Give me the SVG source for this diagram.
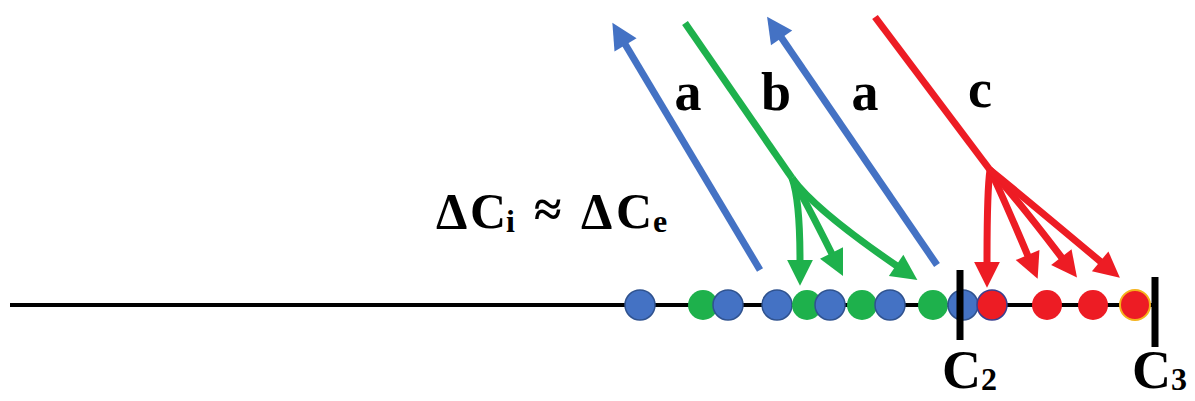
<svg xmlns="http://www.w3.org/2000/svg" width="1195" height="401" viewBox="0 0 1195 401">
<style>
.t{font-family:"Liberation Serif","Times New Roman",serif;font-weight:bold;fill:#000}
.lb{font-size:54px}
.eq{font-size:50px}
.sub{font-size:32px}
.cb{fill:#4472C4;stroke:#2F528F;stroke-width:1.5}
.cg{fill:#1EB14C}
.cr{fill:#ED1C24}
.ab{stroke:#4472C4;stroke-width:7;fill:none}
.ag{stroke:#1EB14C;stroke-width:7;fill:none}
.ar{stroke:#ED1C24;stroke-width:7;fill:none}
.tick{stroke:#000;stroke-width:7}
</style>
<defs>
<marker id="mb" markerUnits="userSpaceOnUse" markerWidth="30" markerHeight="30" refX="1" refY="0" viewBox="-2 -14 28 28" orient="auto"><path d="M0,-12 L24,0 L0,12 z" fill="#4472C4"/></marker>
<marker id="mg" markerUnits="userSpaceOnUse" markerWidth="30" markerHeight="30" refX="1" refY="0" viewBox="-2 -14 28 28" orient="auto"><path d="M0,-12 L24,0 L0,12 z" fill="#1EB14C"/></marker>
<marker id="mr" markerUnits="userSpaceOnUse" markerWidth="30" markerHeight="30" refX="1" refY="0" viewBox="-2 -14 28 28" orient="auto"><path d="M0,-12 L24,0 L0,12 z" fill="#ED1C24"/></marker>
</defs>
<rect width="1195" height="401" fill="#fff"/>
<g id="axis">
<line x1="10" y1="305" x2="1155" y2="305" stroke="#000" stroke-width="4"/>
</g>
<g id="connectors">
<path class="ab" d="M760,270 L625,44" marker-end="url(#mb)"/>
<path class="ab" d="M937,265 L781,37" marker-end="url(#mb)"/>
<path class="ag" d="M685,23 L792,178"/>
<path class="ag" d="M792,178 Q800,200 800,261" marker-end="url(#mg)"/>
<path class="ag" d="M792,178 Q805,200 832,254" marker-end="url(#mg)"/>
<path class="ag" d="M792,178 Q815,210 897,266" marker-end="url(#mg)"/>
<path class="ar" d="M875,17 L990,170"/>
<path class="ar" d="M990,170 Q987,190 987,263" marker-end="url(#mr)"/>
<path class="ar" d="M990,170 Q1000,190 1028,256" marker-end="url(#mr)"/>
<path class="ar" d="M990,170 Q1010,190 1062,258" marker-end="url(#mr)"/>
<path class="ar" d="M990,170 Q1015,190 1101,262" marker-end="url(#mr)"/>
</g>
<g id="particles">
<circle class="cb" cx="640" cy="305" r="15"/>
<circle class="cg" cx="703" cy="305" r="15"/>
<circle class="cb" cx="728" cy="305" r="15"/>
<circle class="cb" cx="777" cy="305" r="15"/>
<circle class="cg" cx="807" cy="305" r="15"/>
<circle class="cb" cx="830" cy="305" r="15"/>
<circle class="cg" cx="862" cy="305" r="15"/>
<circle class="cb" cx="890" cy="305" r="15"/>
<circle class="cg" cx="933" cy="305" r="15"/>
<circle class="cb" cx="963" cy="305" r="15"/>
<circle class="cr" cx="992" cy="305" r="15" stroke="#3A3F8F" stroke-width="1.5"/>
<circle class="cr" cx="1047" cy="305" r="15"/>
<circle class="cr" cx="1093" cy="305" r="15"/>
<circle class="cr" cx="1135" cy="305" r="15" stroke="#F5B31C" stroke-width="2"/>
</g>
<g id="C2">
<line class="tick" x1="960" y1="270" x2="960" y2="340"/>
<text class="t" x="942" y="388" font-size="54">C<tspan font-size="32" dy="2">2</tspan></text>
</g>
<g id="C3">
<line class="tick" x1="1155" y1="277" x2="1155" y2="347"/>
<text class="t" x="1132" y="388" font-size="54">C<tspan font-size="32" dy="2">3</tspan></text>
</g>
<g id="labels">
<text class="t lb" x="688" y="110" text-anchor="middle">a</text>
<text class="t lb" x="776" y="110" text-anchor="middle">b</text>
<text class="t lb" x="865" y="110" text-anchor="middle">a</text>
<text class="t lb" x="980" y="107" text-anchor="middle">c</text>
</g>
<g id="equation">
<text class="t eq" x="436" y="228">Δ</text>
<text class="t eq" x="470" y="228">C</text>
<text class="t sub" x="506" y="232">i</text>
<text class="t eq" x="534" y="226">≈</text>
<text class="t eq" x="581" y="228">Δ</text>
<text class="t eq" x="616" y="228">C</text>
<text class="t sub" x="653" y="232">e</text>
</g>
</svg>
